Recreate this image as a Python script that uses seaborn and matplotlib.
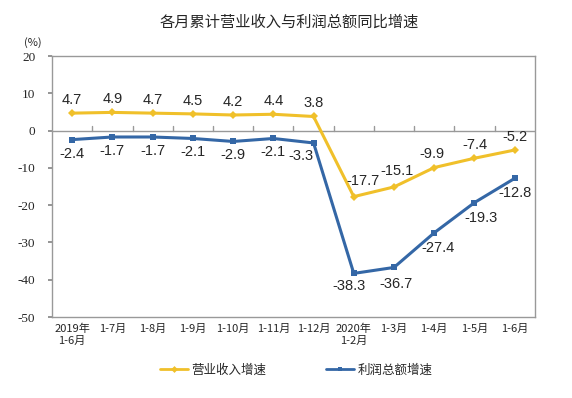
import matplotlib
matplotlib.use("Agg")
import matplotlib.pyplot as plt
import seaborn as sns
import pandas as pd
from matplotlib.lines import Line2D

months = ["2019年\n1-6月", "1-7月", "1-8月", "1-9月", "1-10月", "1-11月", "1-12月",
          "2020年\n1-2月", "1-3月", "1-4月", "1-5月", "1-6月"]
revenue = [4.7, 4.9, 4.7, 4.5, 4.2, 4.4, 3.8, -17.7, -15.1, -9.9, -7.4, -5.2]
profit = [-2.4, -1.7, -1.7, -2.1, -2.9, -2.1, -3.3, -38.3, -36.7, -27.4, -19.3, -12.8]

yellow = "#F0C02A"
blue = "#3467A6"

sns.set_theme(style="white")
plt.rcParams['font.family'] = ['Noto Sans CJK SC', 'DejaVu Sans']

df = pd.DataFrame({
    "x": list(range(len(months))) * 2,
    "v": revenue + profit,
    "s": ["营业收入增速"] * len(months) + ["利润总额增速"] * len(months),
})

fig = plt.figure(figsize=(5.72, 3.98), dpi=100)
ax = fig.add_axes([0.091, 0.2035, 0.844, 0.6555])

sns.lineplot(data=df, x="x", y="v", hue="s", style="s",
             palette={"营业收入增速": yellow, "利润总额增速": blue},
             markers={"营业收入增速": "D", "利润总额增速": "s"}, dashes=False,
             markersize=4, linewidth=2.2, markeredgewidth=0, ax=ax, legend=False)

ax.set_xlim(-0.5, len(months) - 0.5)
ax.set_ylim(-50, 20)
ax.set_yticks(range(-50, 21, 10))
ax.set_yticklabels([str(v) for v in range(-50, 21, 10)], fontsize=9.5, family="Liberation Serif")
ax.set_xticks(range(len(months)))
ax.set_xticklabels(months, fontsize=8, linespacing=1.25)
ax.tick_params(axis="x", length=0, pad=5)
ax.tick_params(axis="y", length=3, left=True, color="#888888", pad=9, direction="out")
ax.set_xlabel("")
ax.set_ylabel("")
for sp in ax.spines.values():
    sp.set_color("#999999")
    sp.set_linewidth(1)

# zero line with ticks between categories
ax.axhline(0, color="#999999", lw=1, zorder=1)
for b in range(1, len(months)):
    ax.plot([b - 0.5, b - 0.5], [0, 1.3], color="#999999", lw=1, zorder=1)

# data label offsets in pixels
px = 72 / 100
rev_off = [(0, 13)] * 7 + [(9, 16), (3, 16), (-2, 14), (0, 13), (0, 13)]
pro_off = [(0, -14)] * 6 + [(-13, -13), (-5, -13), (2, -17), (4, -15), (7, -15), (0, -15)]
for vals, offs in ((revenue, rev_off), (profit, pro_off)):
    for i, v in enumerate(vals):
        dx, dy = offs[i]
        ax.annotate(f"{v}", (i, v), xytext=(dx * px, dy * px), textcoords="offset points",
                    ha="center", va="center", fontsize=10.5, family="Liberation Sans")

fig.text(0.505, 0.945, "各月累计营业收入与利润总额同比增速", ha="center", va="center", fontsize=11)
fig.text(0.058, 0.893, "(%)", ha="center", va="center", fontsize=8)

# legend
handles = [Line2D([0], [0], color=yellow, lw=2, marker="D", markersize=3.5, markeredgewidth=0),
           Line2D([0], [0], color=blue, lw=2, marker="s", markersize=3.5, markeredgewidth=0)]
fig.legend(handles, ["营业收入增速", "利润总额增速"], loc="center", bbox_to_anchor=(0.518, 0.07),
           ncol=2, frameon=False, fontsize=9, handlelength=2.2, columnspacing=4.8, handletextpad=0.3)

fig.savefig("out.png", dpi=100)
